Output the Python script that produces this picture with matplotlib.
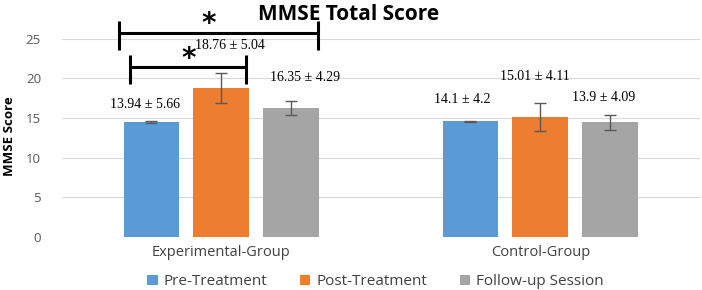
import numpy as np
import matplotlib.pyplot as plt

groups = ['Experimental-Group', 'Control-Group']
series = ['Pre-Treatment', 'Post-Treatment', 'Follow-up Session']
means = {
    'Pre-Treatment': [14.5, 14.6],
    'Post-Treatment': [18.8, 15.15],
    'Follow-up Session': [16.3, 14.5],
}
errs = {
    'Pre-Treatment': [0.08, 0.08],
    'Post-Treatment': [1.9, 1.8],
    'Follow-up Session': [0.85, 0.95],
}
value_labels = [
    ['13.94 \u00b1 5.66', '18.76 \u00b1 5.04', '16.35 \u00b1 4.29'],
    ['14.1 \u00b1 4.2', '15.01 \u00b1 4.11', '13.9 \u00b1 4.09'],
]
colors = ['#5B9BD5', '#ED7D31', '#A5A5A5']

fig = plt.figure(figsize=(7.02, 2.9), dpi=100)
ax = fig.add_axes([0.088, 0.183, 0.909, 0.683])

x = np.arange(len(groups))
width = 0.175
step = 0.219
for i, s in enumerate(series):
    ax.bar(x + (i - 1) * step, means[s], width, color=colors[i], label=s, zorder=2,
           yerr=errs[s], error_kw=dict(ecolor='#595959', elinewidth=1, capsize=4, capthick=1))

# value labels (positions tuned by eye)
lab_pos = [[(-0.238, 16.67), (0.028, 24.1), (0.263, 20.1)],
           [(0.755, 17.3), (0.984, 20.2), (1.197, 17.55)]]
for g in range(2):
    for k in range(3):
        px, py = lab_pos[g][k]
        ax.text(px, py, value_labels[g][k], ha='center', va='center',
                family='Liberation Serif', fontsize=10, color='black')

# significance brackets
def bracket(x0, x1, y, lo, hi, sx, sy):
    kw = dict(color='black', lw=2.2, clip_on=False, solid_capstyle='butt')
    ax.plot([x0, x1], [y, y], **kw)
    ax.plot([x0, x0], [lo, hi], **kw)
    ax.plot([x1, x1], [lo, hi], **kw)
    ax.text(sx, sy, '*', ha='center', va='center', fontsize=20, fontweight='bold',
            clip_on=False)

bracket(-0.320, 0.304, 25.76, 23.6, 27.27, -0.041, 26.9)
bracket(-0.285, 0.078, 21.46, 19.3, 22.98, -0.103, 22.5)

ax.set_ylim(0, 25)
ax.set_xlim(-0.5, 1.5)
ax.set_yticks([0, 5, 10, 15, 20, 25])
ax.set_xticks(x)
ax.set_xticklabels(groups, family='Open Sans', fontsize=10.5, color='#404040')
ax.tick_params(axis='y', labelsize=9.5, labelcolor='#595959', length=0, pad=15)
ax.tick_params(axis='x', length=0, pad=6)
for lbl in ax.get_yticklabels():
    lbl.set_family('Open Sans')
ax.grid(axis='y', color='#D9D9D9', lw=0.8, zorder=0)
for sp in ax.spines.values():
    sp.set_visible(False)

fig.text(0.014, 0.53, 'MMSE Score', rotation=90, ha='center', va='center',
         family='Open Sans', fontsize=9.5, fontweight='bold')
fig.text(0.497, 0.95, 'MMSE Total Score', ha='center', va='center',
         family='Open Sans', fontsize=15, fontweight='bold')

fig.legend(loc='center', bbox_to_anchor=(0.535, 0.028), ncol=3, frameon=False,
           prop={'family': 'Open Sans', 'size': 11}, handlelength=0.7, handleheight=0.7,
           columnspacing=2.1, handletextpad=0.4, labelcolor='#404040')

fig.savefig('out.png', dpi=100)
